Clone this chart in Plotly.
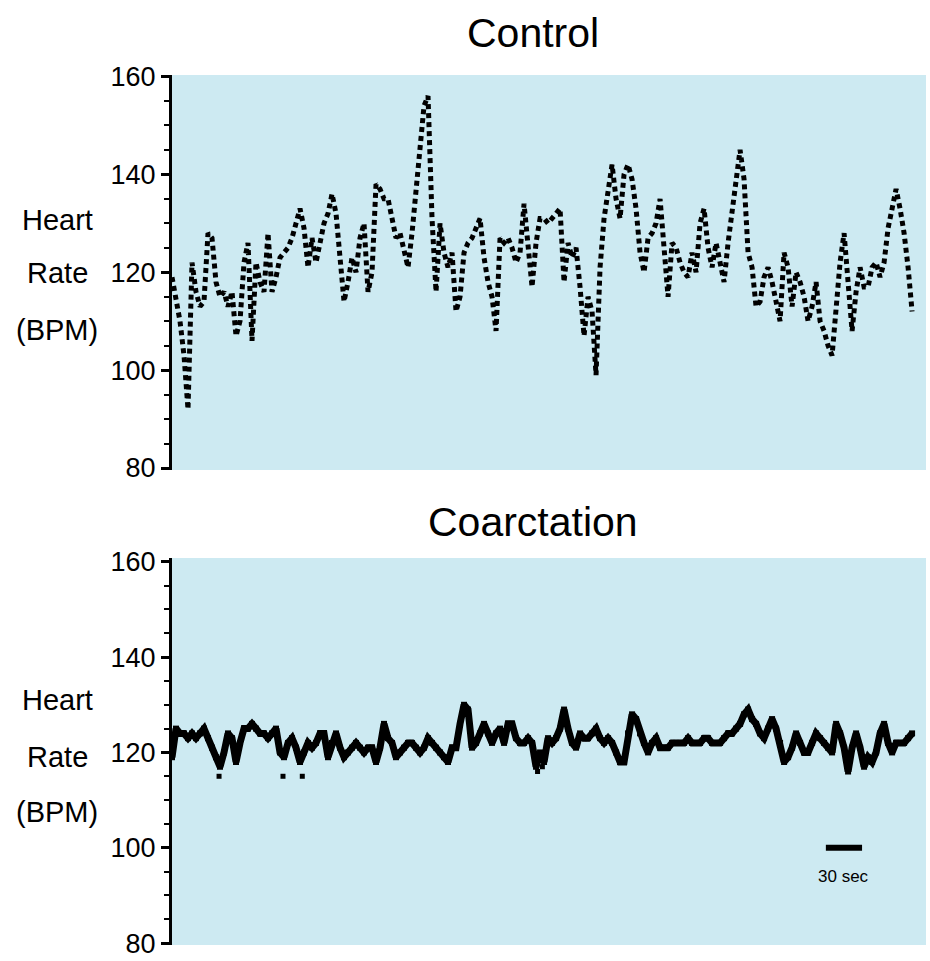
import numpy as np
import plotly.graph_objects as go

# ---------------- data ----------------
DT = 3.316  # seconds between samples
hr_control = [
    119, 114, 110, 103, 92, 122, 116, 113, 114, 128,
    127, 118, 115, 116, 113, 116, 107, 110, 122, 126,
    106, 122, 118, 116, 128, 116, 119, 123, 124, 125,
    127, 130, 133, 129, 121, 127, 122, 126, 130, 132,
    136, 132, 124, 114, 118, 123, 120, 127, 130, 116,
    120, 138, 137, 135, 135, 131, 127, 128, 124, 121,
    128, 137, 147, 154, 156, 131, 116, 130, 124, 121,
    124, 112, 115, 124, 126, 127, 129, 131, 123, 118,
    115, 108, 127, 126, 127, 125, 122, 124, 134, 125,
    117, 126, 131, 131, 130, 131, 132, 133, 118, 126,
    123, 125, 117, 107, 115, 112, 99, 121, 131, 137,
    142, 135, 131, 140, 142, 139, 133, 124, 120, 127,
    128, 130, 135, 125, 115, 126, 125, 122, 120, 119,
    124, 120, 130, 133, 125, 121, 126, 122, 118, 126,
    132, 138, 145, 139, 124, 121, 113, 114, 119, 121,
    118, 114, 110, 124, 121, 113, 120, 118, 115, 110,
    113, 118, 110, 108, 105, 103, 114, 122, 128, 117,
    108, 116, 121, 117, 117, 121, 122, 119, 122, 129,
    133, 137, 133, 128, 121, 112,
]
hr_coarct = [
    119, 125, 124, 124, 123, 124, 123, 124, 125, 123,
    121, 119, 117, 120, 124, 123, 118, 122, 125, 125,
    126, 125, 124, 124, 123, 124, 125, 120, 119, 122,
    123, 121, 118, 120, 122, 121, 122, 124, 124, 119,
    122, 124, 121, 119, 120, 121, 122, 121, 120, 121,
    121, 118, 121, 126, 123, 122, 119, 120, 121, 122,
    122, 121, 120, 121, 123, 122, 121, 120, 119, 118,
    121, 121, 126, 130, 129, 121, 122, 124, 126, 124,
    122, 124, 125, 122, 126, 126, 123, 122, 122, 123,
    122, 117, 120, 118, 123, 122, 123, 125, 129, 125,
    122, 121, 124, 123, 123, 124, 125, 123, 122, 123,
    122, 120, 118, 118, 124, 128, 127, 124, 122, 120,
    122, 123, 121, 121, 121, 122, 122, 122, 122, 123,
    122, 122, 122, 123, 123, 122, 122, 122, 123, 124,
    124, 125, 126, 128, 129, 127, 126, 124, 123, 125,
    127, 125, 122, 118, 119, 121, 124, 122, 120, 120,
    122, 124, 123, 122, 121, 120, 126, 124, 121, 116,
    121, 124, 121, 117, 119, 118, 120, 124, 126, 122,
    120, 122, 122, 122, 123, 124,
]
coarct_outlier_t = [39, 92, 108, 303, 307]
coarct_outlier_hr = [115, 115, 115, 116, 117]

panel_titles = ["Control", "Coarctation"]
y_ticks = [80, 100, 120, 140, 160]
scale_bar_start = 542   # seconds
scale_bar_len = 30      # seconds
scale_bar_hr = 100
scale_label = "30 sec"

t_control = np.arange(len(hr_control)) * DT
t_coarct = np.arange(len(hr_coarct)) * DT

# ---------------- figure ----------------
BG = "#cdeaf2"
FONT = "Liberation Sans, Arial, sans-serif"

fig = go.Figure()
fig.add_trace(go.Scatter(
    x=t_control, y=hr_control, mode="lines",
    line=dict(color="black", width=5, dash="5px,4px"),
    xaxis="x", yaxis="y", showlegend=False))
fig.add_trace(go.Scatter(
    x=t_coarct, y=hr_coarct, mode="lines+markers",
    line=dict(color="black", width=7),
    marker=dict(symbol="square", size=6, color="black", line=dict(width=0)),
    xaxis="x2", yaxis="y2", showlegend=False))
fig.add_trace(go.Scatter(
    x=coarct_outlier_t, y=coarct_outlier_hr, mode="markers",
    marker=dict(symbol="square", size=5, color="black", line=dict(width=0)),
    xaxis="x2", yaxis="y2", showlegend=False))

xdom = [172 / 930, 926 / 930]
xr = [0, 625]
common_x = dict(range=xr, visible=False, showgrid=False, zeroline=False)
common_y = dict(
    tickvals=y_ticks, ticktext=[str(v) for v in y_ticks],
    ticks="outside", ticklen=8, tickwidth=2.5, tickcolor="black",
    showline=True, linecolor="black", linewidth=3,
    showgrid=False, zeroline=False, automargin=False,
    ticklabeloverflow="allow",
    tickfont=dict(family=FONT, size=27, color="black"),
    minor=dict(dtick=5, tick0=80, ticks="outside", ticklen=5,
               tickwidth=2, tickcolor="black", showgrid=False),
    ticklabelstandoff=0,
)

fig.update_layout(
    width=930, height=961,
    margin=dict(l=0, r=0, t=0, b=0, autoexpand=False),
    paper_bgcolor="white",
    plot_bgcolor=BG,
    xaxis=dict(domain=xdom, anchor="y", **common_x),
    yaxis=dict(domain=[1 - 470 / 961, 1 - 75 / 961], range=[79.6, 160.3],
               anchor="x", **common_y),
    xaxis2=dict(domain=xdom, anchor="y2", **common_x),
    yaxis2=dict(domain=[1 - 945 / 961, 1 - 558 / 961], range=[79.6, 160.8],
                anchor="x2", **common_y),
)

# panel titles
for title, ypx in zip(panel_titles, [33, 522]):
    fig.add_annotation(text=title, x=533 / 930, y=1 - ypx / 961,
                       xref="paper", yref="paper", showarrow=False,
                       xanchor="center", yanchor="middle",
                       font=dict(family=FONT, size=41, color="black"))

# y-axis titles (three lines each)
for centers in ([220, 273, 330], [700, 757, 812]):
    for txt, ypx in zip(["Heart", "Rate", "(BPM)"], centers):
        fig.add_annotation(text=txt, x=57 / 930, y=1 - ypx / 961,
                           xref="paper", yref="paper", showarrow=False,
                           xanchor="center", yanchor="middle",
                           font=dict(family=FONT, size=29, color="black"))

# 30 sec scale bar
fig.add_shape(type="line", xref="x2", yref="y2",
              x0=scale_bar_start, x1=scale_bar_start + scale_bar_len,
              y0=scale_bar_hr, y1=scale_bar_hr,
              line=dict(color="black", width=6))
fig.add_annotation(text=scale_label, x=scale_bar_start + scale_bar_len / 2, y=94,
                   xref="x2", yref="y2", showarrow=False,
                   xanchor="center", yanchor="middle",
                   font=dict(family=FONT, size=17, color="black"))

fig.write_html("out.html")
